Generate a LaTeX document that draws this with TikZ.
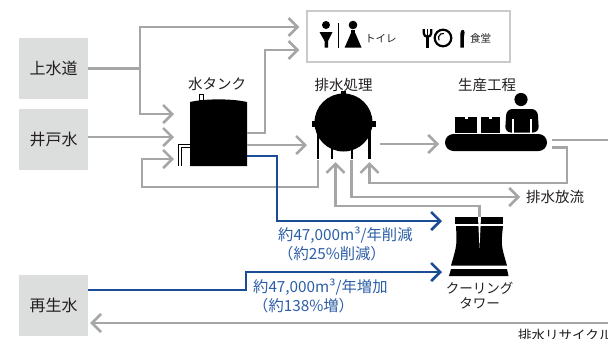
\documentclass[tikz,border=0pt]{standalone}
\usepackage{fontspec}
\setmainfont{Noto Sans CJK JP}
\usetikzlibrary{arrows.meta,calc}
\definecolor{flowgray}{HTML}{A6A6A6}
\definecolor{srcfill}{HTML}{DCDDDD}
\definecolor{recblue}{HTML}{1A4B95}
\definecolor{recbluetext}{HTML}{2D5FA8}
\definecolor{ink}{HTML}{231F20}
\definecolor{framegray}{HTML}{C9CACA}
\tikzset{
  src/.style={fill=srcfill, minimum width=69pt, minimum height=61pt, inner sep=0pt,
    font=\fontsize{16}{18}\selectfont, text=ink},
  pipe/.style={draw=flowgray, line width=2.6pt},
  flow/.style={pipe, -{Straight Barb[length=9pt,width=18pt]}},
  bflow/.style={draw=recblue, line width=2.6pt, -{Straight Barb[length=9pt,width=18pt]}},
  lbl/.style={font=\fontsize{14.5}{16}\selectfont, text=ink, inner sep=0pt},
  small/.style={font=\fontsize{10.5}{12}\selectfont, text=ink, inner sep=0pt, anchor=west},
  note/.style={font=\fontsize{15.3}{19}\selectfont, text=recbluetext, align=left, inner sep=0pt, anchor=west},
  holder/.style={inner sep=0pt, outer sep=0pt},
}
\begin{document}
\begin{tikzpicture}[x=1pt,y=-1pt]
\fill[white] (0,0) rectangle (608,338);
\useasboundingbox (0,0) rectangle (608,338);

% water sources
\node[src] (jousui) at (53.5,68.5) {上水道};
\node[src] (ido) at (53.5,139.5) {井戸水};
\node[src] (saisei) at (53.5,305.5) {再生水};

% toilets and canteen
\node[draw=framegray, line width=1.2pt, minimum width=203pt, minimum height=51pt, inner sep=0pt] (amen) at (408.5,36.5) {};
\fill (326,25) circle[radius=4];
\fill (319.5,32) -- (332.5,32) -- (328,41) -- (328,47.5) -- (324.5,47.5) -- (324.5,41) -- cycle;
\draw[line width=1.3pt] (338.5,23) -- (338.5,47.5);
\fill (353,25) circle[radius=4.3];
\fill (351.3,30) rectangle (354.8,34);
\fill (351,33) -- (355.2,33) -- (361.5,47.5) -- (344.7,47.5) -- cycle;
\node[small] (toire) at (365,38.5) {トイレ};
\draw[line width=2.2pt] (423.7,29) -- (423.7,33) arc[start angle=180, end angle=0, radius=3.8] -- (431.3,29);
\draw[line width=1.6pt] (427.5,29) -- (427.5,36);
\draw[line width=2.8pt] (427.5,36) -- (427.5,47.5);
\draw[line width=2.2pt] (443,38) circle[radius=8.3];
\draw[line width=1.2pt] (443,38) ++(150:4.6) arc[start angle=150, end angle=280, radius=4.6];
\fill (460.4,47.5) -- (460.4,33.5) .. controls (460.4,29) and (464.6,28.5) .. (464.6,32.5) -- (463.8,38) -- (463.8,47.5) -- cycle;
\node[small] (shokudo) at (470,38.5) {食堂};

% water tank
\node[holder, minimum width=57pt, minimum height=66pt] (tank) at (218.5,133) {};
\fill (tank.south west) -- (190,102) .. controls (205,98.5) and (232,98.5) .. (247,102) -- (tank.south east) -- cycle;
\draw[line width=1pt, fill=white] (199,94.5) rectangle (203.5,100.5);
\draw[line width=0.8pt, double=white, double distance=2pt] (180,166) -- (180,146) -- (190,146);
\node[lbl] (tanklbl) at (217,84) {水タンク};

% wastewater treatment vessel
\node[holder, circle, minimum size=58pt] (wwt) at (343.5,122.5) {};
\fill (wwt.center) circle[radius=29];
\fill (341,91) rectangle (346,95);
\fill (311.5,121) rectangle (316,127);
\fill (371,121) rectangle (375.5,127);
\draw[line width=2.4pt] (317.8,128) -- (317.8,159);
\draw[line width=2.4pt] (331.7,140) -- (331.7,159);
\draw[line width=2.4pt] (351.7,140) -- (351.7,159);
\draw[line width=2.4pt] (369.3,128) -- (369.3,159);
\node[lbl] (wwtlbl) at (343.5,85) {排水処理};

% production line
\node[holder, fill=black, rounded corners=8.5pt, minimum width=102pt, minimum height=17pt] (conv) at (496,142.5) {};
\fill (455,117) rectangle (477,132.5);
\fill[white] (464.5,117) rectangle (467.5,119.3);
\fill (481,117) rectangle (500,132.5);
\fill[white] (489,117) rectangle (492,119.3);
\fill (521,99.5) circle[radius=6.6];
\fill[rounded corners=6pt] (505,132.5) -- (506.5,109) -- (537.5,109) -- (539,132.5) -- cycle;
\draw[white, line width=1.2pt] (513,119) -- (513,133) (531,119) -- (531,133);
\node[lbl] (convlbl) at (487,85) {生産工程};

% cooling tower
\node[holder, minimum width=59pt, minimum height=59pt] (tower) at (479.5,246.5) {};
\fill (455,217) rectangle (503,224);
\fill (456,226) -- (503,226) .. controls (501,245) .. (507,265.5) -- (451,265.5) .. controls (457,245) .. (456,226) -- cycle;
\fill[white] (478,217) -- (481,217) -- (479.5,248) -- cycle;
\fill (451,269) -- (507,269) -- (508.5,276) -- (449,276) -- cycle;
\node[lbl, align=center, font=\fontsize{13.5}{15.5}\selectfont] (towerlbl) at (479.5,295.5) {クーリング\\タワー};

% outlet labels
\node[lbl, anchor=west] (houryu) at (526,197) {排水放流};
\node[lbl, anchor=west, font=\fontsize{13.5}{15}\selectfont] (recycle) at (518,335) {排水リサイクル};

% supply connectors
\draw[pipe] (jousui.east) -- (140,68.5) coordinate (split);
\draw[flow, shorten >=7pt] (split) |- (amen.west |- 0,27);
\draw[flow, shorten >=16pt] (split) |- (tank.west |- 0,114);
\draw[flow, shorten >=16pt] (ido.east |- 0,137) -- (tank.west |- 0,137);
\draw[flow, shorten >=7pt] (tank.east |- 0,133) -| (265,50) -- (amen.west |- 0,50);
\draw[flow, shorten >=7.5pt] (tank.east |- 0,145) -- (wwt.west |- 0,145);

% treated water back to the tank
\draw[flow, shorten >=16pt] (317.8,160) |- (142,187) |- (tank.west |- 0,159);

% treated water to production and out
\draw[flow, shorten <=7.5pt, shorten >=6pt] (wwt.east |- 0,144) -- (conv.west |- 0,144);
\draw[pipe, shorten <=5pt] (conv.east |- 0,140) -- (615,140);
\draw[flow, shorten <=5pt, shorten >=10.5pt] (conv.east |- 0,147.5) -| (567,183) -| (369.5,0 |- wwt.south);
\draw[flow, shorten >=6pt] (351.7,160) |- (houryu.west);
\draw[flow, shorten >=10.5pt] (tower.north) -- (479.5,206) -| (335.5,0 |- wwt.south);
\draw[flow, shorten >=2pt] (615,323) -- (saisei.east |- 0,323);

% recycled water to the cooling tower
\draw[bflow, shorten >=8pt] (tank.east |- 0,156) -| (277,221) -- (tower.west |- 0,221);
\draw[bflow, shorten >=8pt] (saisei.east |- 0,290) -| (246,272) -- (tower.west |- 0,272);

\node[note] (cut) at (278,243.5) {約47,000m³/年削減\\（約25\%削減）};
\node[note] (add) at (253,295.5) {約47,000m³/年増加\\（約138\%増）};
\end{tikzpicture}
\end{document}
